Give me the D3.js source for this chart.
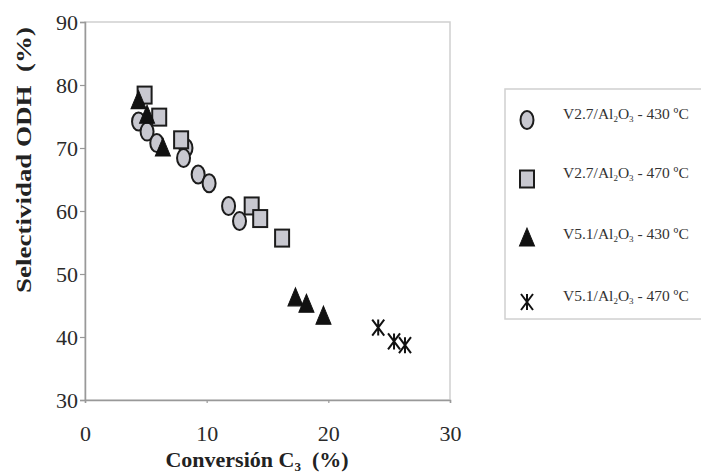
<!DOCTYPE html>
<html>
<head>
<meta charset="utf-8">
<script src="https://cdn.jsdelivr.net/npm/d3@7"></script>
<style>
  html, body { margin: 0; padding: 0; background: #fff; }
  svg { display: block; }
</style>
</head>
<body>
<svg id="chart" width="701" height="476"></svg>
<script>
// ---- data ----
const xTicks = [0, 10, 20, 30];
const yTicks = [30, 40, 50, 60, 70, 80, 90];
const seriesNames = ["V2.7/Al2O3 - 430 ºC", "V2.7/Al2O3 - 470 ºC", "V5.1/Al2O3 - 430 ºC", "V5.1/Al2O3 - 470 ºC"];
const legendCatalyst = ["V2.7", "V2.7", "V5.1", "V5.1"];
const legendTemp = ["430 ºC", "470 ºC", "430 ºC", "470 ºC"];

const v27_430_x = [4.4, 5.1, 5.9, 8.3, 8.1, 9.3, 10.2, 11.8, 12.7];
const v27_430_y = [74.2, 72.6, 70.8, 70.0, 68.4, 65.8, 64.4, 60.8, 58.4];
const v27_470_x = [4.9, 6.1, 7.9, 13.7, 14.4, 16.2];
const v27_470_y = [78.4, 74.9, 71.3, 60.8, 58.8, 55.7];
const v51_430_x = [4.4, 5.1, 6.4, 17.3, 18.2, 19.6];
const v51_430_y = [77.2, 74.9, 69.7, 45.9, 44.9, 43.0];
const v51_470_x = [24.1, 25.4, 26.3];
const v51_470_y = [41.5, 39.3, 38.7];

// ---- layout ----
const svg = d3.select("#chart");
const pLeft = 85, pRight = 450, pTop = 22, pBottom = 400;
const x = d3.scaleLinear().domain([0, 30]).range([pLeft, pRight]);
const y = d3.scaleLinear().domain([30, 90]).range([pBottom, pTop]);
const serif = "'Liberation Serif', 'Times New Roman', serif";
const fillGrey = "#c8c8d0";
const strokeDark = "#1c1c1c";

// frame
svg.append("rect").attr("x", pLeft).attr("y", pTop)
  .attr("width", pRight - pLeft).attr("height", pBottom - pTop)
  .attr("fill", "none").attr("stroke", "#cfcfcf").attr("stroke-width", 1.5);

// axes
const yAxis = svg.append("g").attr("transform", `translate(${pLeft},0)`)
  .call(d3.axisLeft(y).tickValues(yTicks).tickSize(5).tickPadding(2).tickFormat(d3.format("d")));
const xAxis = svg.append("g").attr("transform", `translate(0,${pBottom})`)
  .call(d3.axisBottom(x).tickValues(xTicks).tickSize(3).tickPadding(22).tickFormat(d3.format("d")));
[yAxis, xAxis].forEach(g => {
  g.select(".domain").attr("stroke", "#999").attr("stroke-width", 1.5);
  g.selectAll(".tick line").attr("stroke", "#999").attr("stroke-width", 1.2);
  g.selectAll(".tick text").attr("font-family", serif).attr("font-size", 22).attr("fill", "#2a2a2a");
});
yAxis.selectAll(".tick text").attr("dy", "0.36em");

// axis titles
const xt = svg.append("text").attr("x", 257).attr("y", 467)
  .attr("text-anchor", "middle").attr("font-family", serif)
  .attr("font-weight", "bold").attr("font-size", 22).attr("fill", "#222");
xt.append("tspan").text("Conversión C");
xt.append("tspan").text("3").attr("font-size", 13).attr("dy", 4);
xt.append("tspan").text("\u00a0\u00a0(%)").attr("dy", -4);

svg.append("text")
  .attr("transform", "translate(31,160) rotate(-90)")
  .attr("text-anchor", "middle").attr("font-family", serif)
  .attr("font-weight", "bold").attr("font-size", 21).attr("fill", "#222")
  .attr("textLength", 266).attr("lengthAdjust", "spacingAndGlyphs")
  .text("Selectividad ODH\u00a0\u00a0(%)");

// ---- marker drawers ----
function drawEllipse(g, cx, cy) {
  g.append("ellipse").attr("cx", cx).attr("cy", cy).attr("rx", 6.5).attr("ry", 9)
    .attr("fill", fillGrey).attr("stroke", strokeDark).attr("stroke-width", 2);
}
function drawSquare(g, cx, cy) {
  g.append("rect").attr("x", cx - 7).attr("y", cy - 8.5).attr("width", 14).attr("height", 17)
    .attr("fill", fillGrey).attr("stroke", strokeDark).attr("stroke-width", 2);
}
const triPath = d3.symbol().type(d3.symbolTriangle).size(90)();
function drawTriangle(g, cx, cy) {
  g.append("path").attr("d", triPath)
    .attr("transform", `translate(${cx},${cy}) scale(1.05,1.45)`)
    .attr("fill", "#111").attr("stroke", "#111").attr("stroke-width", 0.8);
}
function drawStar(g, cx, cy) {
  const w = 6, h = 8;
  g.append("path")
    .attr("d", `M${-w},${-h}L${w},${h}M${w},${-h}L${-w},${h}M0,${-h}L0,${h}`)
    .attr("transform", `translate(${cx},${cy})`)
    .attr("fill", "none").attr("stroke", "#111").attr("stroke-width", 2);
}

// ---- points ----
const pts = svg.append("g");
v27_430_x.forEach((v, i) => drawEllipse(pts, x(v), y(v27_430_y[i])));
v27_470_x.forEach((v, i) => drawSquare(pts, x(v), y(v27_470_y[i])));
v51_430_x.forEach((v, i) => drawTriangle(pts, x(v), y(v51_430_y[i])));
v51_470_x.forEach((v, i) => drawStar(pts, x(v), y(v51_470_y[i])));

// ---- legend ----
const lg = svg.append("g");
lg.append("rect").attr("x", 505).attr("y", 89).attr("width", 210).attr("height", 230)
  .attr("fill", "#fff").attr("stroke", "#d0d0d0").attr("stroke-width", 1.5);
const drawers = [drawEllipse, drawSquare, drawTriangle, drawStar];
const rowY = [120, 179, 240, 302];
seriesNames.forEach((name, i) => {
  drawers[i](lg, 527, rowY[i]);
  const t = lg.append("text").attr("x", 563).attr("y", rowY[i] - 1)
    .attr("font-family", serif).attr("font-size", 15.5).attr("fill", "#333");
  t.append("tspan").text(legendCatalyst[i] + "/Al");
  t.append("tspan").text("2").attr("font-size", 9).attr("dy", 3);
  t.append("tspan").text("O").attr("dy", -3);
  t.append("tspan").text("3").attr("font-size", 9).attr("dy", 3);
  t.append("tspan").text(" - " + legendTemp[i]).attr("dy", -3);
});
</script>
</body>
</html>
